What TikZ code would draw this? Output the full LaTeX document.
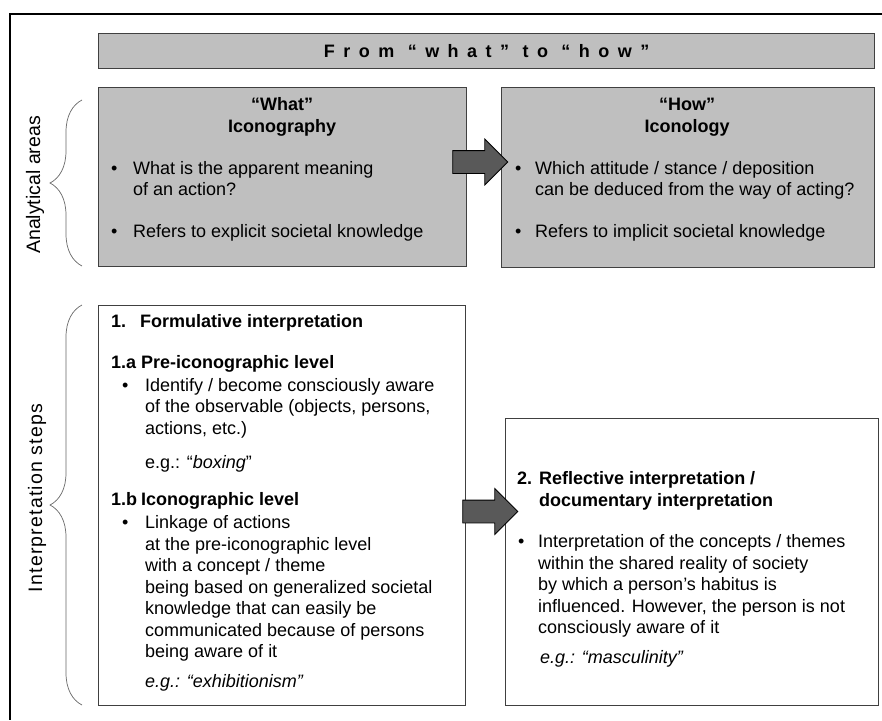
\documentclass[tikz,border=0pt]{standalone}
\usepackage{fontspec}
\setmainfont{Liberation Sans}
\usetikzlibrary{shapes.arrows,decorations.pathreplacing}

\newcommand{\bpt}[1][22pt]{\makebox[#1][l]{\textbullet}}
\newcommand{\skipin}[1][22pt]{\hspace*{#1}}

\tikzset{
  panel/.style={draw=black!75, line width=1.3pt, inner sep=0pt, anchor=north west},
  graypanel/.style={panel, fill=black!25},
  txt/.style={font=\fontsize{18}{21.5}\selectfont, inner sep=0pt, align=left, anchor=base west},
  boldtxt/.style={txt, font=\fontsize{18}{21.5}\selectfont\bfseries},
  heading/.style={boldtxt, align=center, anchor=base},
  sidelabel/.style={inner sep=0pt, anchor=center, rotate=90, font=\fontsize{19.5}{22}\selectfont},
  bigarrow/.style={single arrow, draw=black, fill=black!65, line width=0.8pt, inner sep=0pt,
    minimum height=55pt, minimum width=45pt, single arrow head extend=11.5pt,
    text height=22pt, text depth=0pt},
  curly/.style={decorate, decoration={brace, amplitude=32pt}, draw=black!60, line width=0.7pt},
}

\begin{document}
\begin{tikzpicture}[x=1pt, y=-1pt]
    \useasboundingbox (0,0) rectangle (882,720);
    \draw[line width=1.3pt] (882,14) -- (10,14) -- (10,720);

    % top row
    \node[graypanel, minimum width=776pt, minimum height=35pt,
          font=\fontsize{18}{21.5}\selectfont\bfseries] (title) at (98,33)
          {\addfontfeatures{LetterSpace=47}From “what” to “how”};
    \node[graypanel, minimum width=368pt, minimum height=179pt] (what) at (98,87) {};
    \node[graypanel, minimum width=373pt, minimum height=180pt] (how) at (501,87) {};

    % multi-line texts sit on the baseline of their last line
    \node[heading] (whathead) at (282,132) {“What”\\Iconography};
    \node[txt] (whatlist) at (111,237.5) {\bpt What is the apparent meaning\\
        \skipin of an action?\\[20.5pt]
        \bpt Refers to explicit societal knowledge};

    \node[heading] (howhead) at (687,132) {“How”\\Iconology};
    \node[txt] (howlist) at (515,237.5) {\bpt[20pt]Which attitude / stance / deposition\\
        \skipin[20pt]can be deduced from the way of acting?\\[20.5pt]
        \bpt[20pt]Refers to implicit societal knowledge};

    % bottom row
    \node[panel, fill=white, minimum width=367pt, minimum height=400pt] (formulative) at (98,305) {};
    \node[panel, fill=white, minimum width=373pt, minimum height=287pt] (reflective) at (505,418) {};

    \node[boldtxt] (step1) at (111,327) {\makebox[29pt][l]{1.}Formulative interpretation};
    \node[boldtxt] (step1a) at (111,368) {\makebox[30pt][l]{1.a}Pre-iconographic level};
    \node[txt] (list1a) at (122,468) {\bpt[23pt]Identify / become consciously aware\\
        \skipin[23pt]of the observable (objects, persons,\\
        \skipin[23pt]actions, etc.)\\[12.5pt]
        \skipin[23pt]e.g.: “\textit{boxing}”};
    \node[boldtxt] (step1b) at (111,505) {\makebox[30pt][l]{1.b}Iconographic level};
    \node[txt] (list1b) at (122,687.5) {\bpt[23pt]Linkage of actions\\
        \skipin[23pt]at the pre-iconographic level\\
        \skipin[23pt]with a concept / theme\\
        \skipin[23pt]being based on generalized societal\\
        \skipin[23pt]knowledge that can easily be\\
        \skipin[23pt]communicated because of persons\\
        \skipin[23pt]being aware of it\\[8.5pt]
        \skipin[23pt]\textit{e.g.: “exhibitionism”}};

    \node[boldtxt] (step2) at (517,506) {\makebox[22pt][l]{2.}Reflective interpretation /\\
        \skipin documentary interpretation};
    \node[txt] (list2) at (518,663.5) {\bpt[20pt]Interpretation of the concepts / themes\\
        \skipin[20pt]within the shared reality of society\\
        \skipin[20pt]by which a person’s habitus is\\
        \skipin[20pt]influenced. However, the person is not\\
        \skipin[20pt]consciously aware of it\\[8.5pt]
        \skipin \textit{e.g.: “masculinity”}};

    % block arrows
    \foreach \name/\x/\y in {toiconology/474.5/162, toreflective/484.5/511.5}
        \node[bigarrow] (\name) at (\x,\y) {};

    % braces and side labels
    \coordinate (areasbot) at (82,266);
    \coordinate (areastop) at (82,100);
    \coordinate (stepsbot) at (82,705);
    \coordinate (stepstop) at (82,305);
    \draw[curly] (areasbot) -- (areastop);
    \draw[curly] (stepsbot) -- (stepstop);
    \node[sidelabel] (areas) at (35,185) {Analytical areas};
    \node[sidelabel] (steps) at (37,498) {\addfontfeatures{LetterSpace=6}Interpretation steps};
\end{tikzpicture}
\end{document}
